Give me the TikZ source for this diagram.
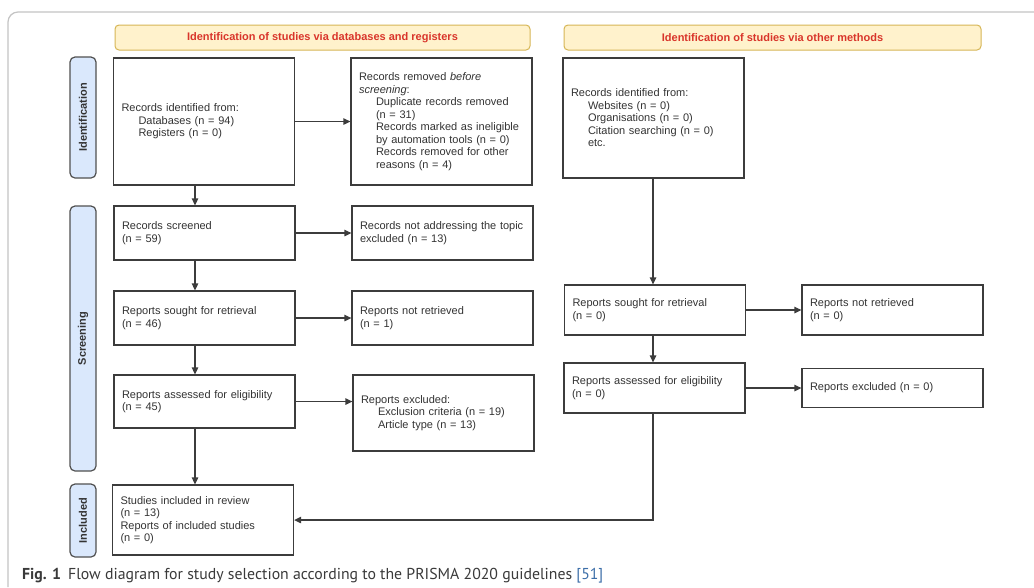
\documentclass[tikz,border=0pt]{standalone}
\usepackage{fontspec}
\setmainfont{Liberation Sans}
\newfontfamily\capfont{PT Sans}
\usetikzlibrary{arrows.meta}
\definecolor{hdrfill}{HTML}{FFF2CC}
\definecolor{hdrline}{HTML}{D6B656}
\definecolor{hdrtext}{HTML}{D9352B}
\definecolor{sidefill}{HTML}{DAE8FC}
\definecolor{sideline}{HTML}{505050}
\definecolor{boxline}{HTML}{3C3C3C}
\definecolor{txt}{HTML}{333333}
\definecolor{framegray}{HTML}{C4C4C4}
\definecolor{capgray}{HTML}{3A3A3A}
\definecolor{citeblue}{HTML}{3C6EA8}
\newcommand{\ind}{\hspace*{17pt}}
\begin{document}
\begin{tikzpicture}[x=1pt,y=-1pt,
  box/.style={draw=boxline, line width=1.3pt, fill=white, text=txt,
    font=\fontsize{11}{12.5}\selectfont, align=left, inner xsep=8pt, inner ysep=0pt,
    minimum width=181pt, text width=165pt},
  hdr/.style={draw=hdrline, line width=1pt, fill=hdrfill, rounded corners=4pt,
    text=hdrtext, font=\fontsize{11}{13}\selectfont\bfseries, minimum height=25pt},
  side/.style={draw=sideline, line width=1.2pt, fill=sidefill, rounded corners=5pt,
    rotate=90, text=txt, font=\fontsize{11}{13}\selectfont\bfseries, minimum height=26pt},
  arr/.style={draw=boxline, line width=1.3pt, -{Triangle[length=7pt,width=6.5pt]}}]
\useasboundingbox (0,0) rectangle (1034,587);
\fill[white] (0,0) rectangle (1034,587);
% outer frame
\draw[framegray, line width=1.2pt, rounded corners=10pt] (8,587) -- (8,12) -- (1034,12);
% headers
\node[hdr, minimum width=415pt] (h1) at (322.5,37.5) {Identification of studies via databases and registers};
\node[hdr, minimum width=417pt] (h2) at (772.5,37.5) {Identification of studies via other methods};
% side labels
\node[side, minimum width=121pt] (s1) at (83,117.5) {Identification};
\node[side, minimum width=265pt] (s2) at (83,338.5) {Screening};
\node[side, minimum width=73pt] (s3) at (83,520.5) {Included};
% boxes
\node[box, minimum height=127pt] (A) at (204,121.5) {Records identified from:\\\ind Databases (n = 94)\\\ind Registers (n = 0)};
\node[box, minimum height=127pt] (B) at (441.5,121.5) {Records removed \textit{before}\\\textit{screening}:\\\ind Duplicate records removed\\\ind (n = 31)\\\ind Records marked as ineligible\\\ind by automation tools (n = 0)\\\ind Records removed for other\\\ind reasons (n = 4)};
\node[box, minimum height=120pt] (C) at (653.5,118) {Records identified from:\\\ind Websites (n = 0)\\\ind Organisations (n = 0)\\\ind Citation searching (n = 0)\\\ind etc.};
\node[box, minimum height=54pt] (D) at (204.5,233) {Records screened\\(n = 59)};
\node[box, minimum height=54pt] (E) at (442.5,233) {Records not addressing the topic\\excluded (n = 13)};
\node[box, minimum height=54pt] (F) at (204.5,318) {Reports sought for retrieval\\(n = 46)};
\node[box, minimum height=54pt] (G) at (442.5,318) {Reports not retrieved\\(n = 1)};
\node[box, minimum height=53pt] (H) at (204.5,401.5) {Reports assessed for eligibility\\(n = 45)};
\node[box, minimum height=76pt] (I) at (443.5,413) {Reports excluded:\\\ind Exclusion criteria (n = 19)\\\ind Article type (n = 13)\\[7pt]};
\node[box, minimum height=50pt] (J) at (655,310) {Reports sought for retrieval\\(n = 0)};
\node[box, minimum height=50pt] (K) at (892.5,310) {Reports not retrieved\\(n = 0)};
\node[box, minimum height=50pt] (L) at (654.5,388) {Reports assessed for eligibility\\(n = 0)};
\node[box, minimum height=39pt] (M) at (892.5,388) {Reports excluded (n = 0)};
\node[box, minimum height=70pt] (N) at (203,520) {Studies included in review\\(n = 13)\\Reports of included studies\\(n = 0)};
% connectors
\coordinate (xl) at (195,0);
\coordinate (xr) at (653,0);
\draw[arr] (A.east) -- (B.west);
\draw[arr] (A.south -| xl) -- (D.north -| xl);
\draw[arr] (D.east) -- (E.west);
\draw[arr] (D.south -| xl) -- (F.north -| xl);
\draw[arr] (F.east) -- (G.west);
\draw[arr] (F.south -| xl) -- (H.north -| xl);
\draw[arr] (H.east) -- (H.east -| I.west);
\draw[arr] (H.south -| xl) -- (N.north -| xl);
\draw[arr] (C.south -| xr) -- (J.north -| xr);
\draw[arr] (J.east) -- (K.west);
\draw[arr] (J.south -| xr) -- (L.north -| xr);
\draw[arr] (L.east) -- (M.west);
\draw[arr] (L.south -| xr) |- (N.east);
% caption
\node[anchor=base west, inner sep=0pt, text=capgray, font=\capfont\fontsize{15.8}{18}\selectfont] (cap) at (22,579)
  {\textbf{Fig. 1}\hspace{7pt}Flow diagram for study selection according to the PRISMA 2020 guidelines {\color{citeblue}[51]}};
\end{tikzpicture}
\end{document}
